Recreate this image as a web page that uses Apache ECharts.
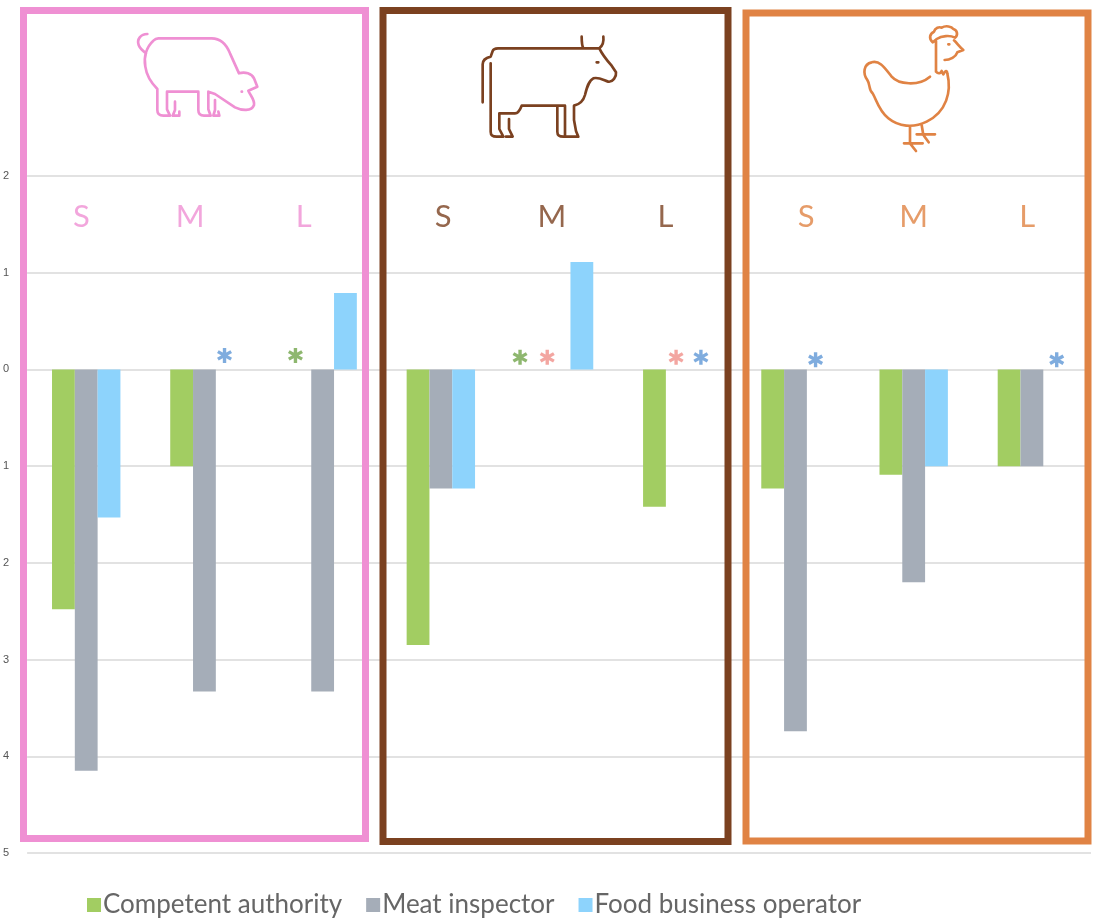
<!DOCTYPE html>
<html><head><meta charset="utf-8">
<style>html,body{margin:0;padding:0;background:#fff}#c{width:1096px;height:919px}</style>
<script src="https://cdn.jsdelivr.net/npm/echarts@6/dist/echarts.min.js"></script>
</head><body><div id="c"></div>
<script>
const categories = ['Pig S','Pig M','Pig L','Cattle S','Cattle M','Cattle L','Poultry S','Poultry M','Poultry L'];
const competentAuthority = [-2.48,-1,null,-2.85,null,-1.42,-1.23,-1.09,-1];
const meatInspector      = [-4.15,-3.33,-3.33,-1.23,null,null,-3.74,-2.2,-1];
const foodBusiness       = [-1.53,null,0.79,-1.23,1.11,null,null,-1,null];
const yTicks = [2,1,0,-1,-2,-3,-4,-5];
const sizeText = ['S','M','L'];
const pigSizes = [[0.46,1.58],[1.38,1.58],[2.34,1.58]];
const cattleSizes = [[3.52,1.58],[4.44,1.58],[5.40,1.58]];
const poultrySizes = [[6.59,1.58],[7.50,1.58],[8.46,1.58]];
const greenStars = [[2.27,0.145],[4.17,0.125]];
const redStars = [[4.40,0.125],[5.49,0.125]];
const blueStars = [[1.67,0.145],[5.70,0.125],[6.67,0.10],[8.71,0.10]];

const GREEN='#a2cd62',GREY='#a5adb8',BLUE='#8dd3fc',PINK='#ef90d3',BROWN='#7b4120',ORANGE='#e08344';

function starPath(){
  let d='';
  [0,60,120].forEach(a=>{
    const r=a*Math.PI/180,c=Math.cos(r),s=Math.sin(r),w=11,h=50;
    const p=[[-w,-h],[w,-h],[w,h],[-w,h]].map(q=>[50+q[0]*c-q[1]*s,50+q[0]*s+q[1]*c]);
    d+='M'+p.map(q=>q[0].toFixed(1)+','+q[1].toFixed(1)).join('L')+'Z';
  });
  return 'path://'+d;
}
const star=starPath();
function starSeries(data,color){return {type:'scatter',xAxisIndex:1,yAxisIndex:0,data,symbol:star,symbolSize:15,itemStyle:{color},silent:true,z:5};}
function sizeSeries(data,color){return {type:'scatter',xAxisIndex:1,yAxisIndex:0,data,symbolSize:0,silent:true,z:5,
  label:{show:true,position:'inside',formatter:p=>sizeText[p.dataIndex],color,fontFamily:'Lato',fontSize:31}};}
function bar(name,data,color){return {name,type:'bar',data,barWidth:22.8,barGap:0,itemStyle:{color},z:3};}
function box(x,y,w,h,color){return {type:'rect',z:100,shape:{x,y,width:w,height:h},style:{fill:'none',stroke:color,lineWidth:7}};}
function icon(name,x,y,pathData,color){
  echarts.graphic.registerShape(name,echarts.graphic.extendPath(pathData,{}));
  return {type:name,z:100,x,y,scaleX:1/3,scaleY:1/3,
    style:{fill:'none',stroke:color,lineWidth:8,lineCap:'round',lineJoin:'round'}};
}

const pigPath='M82,42C62,42 50,58 56,75C60,86 68,92 78,100M100,62C80,80 70,110 76,140C80,170 95,190 112,207L112,270C112,282 118,287 130,287L150,287L141,268L141,215L235,215L235,270C235,282 240,287 252,287L272,287L265,268L265,215L285,222L345,262C365,272 395,275 402,255C405,240 392,228 385,212L412,200L402,175C395,160 375,155 357,160L330,100C320,75 305,55 275,55L115,55C108,55 104,58 100,62ZM165,245L165,270L158,287L178,287L178,275M285,240L285,270L280,287L298,287L295,275M365,215L366,215';
const cowPath='M38,232L38,118C38,105 50,98 62,95L68,78C70,72 76,70 84,70L340,70C335,60 335,45 335,35M400,35C402,50 398,62 388,70L340,70M388,70C395,85 410,105 425,122L438,142C440,155 428,172 415,170C400,165 385,155 370,160C355,168 350,190 345,210C340,228 330,238 312,242L312,285L318,318L325,335L285,335L285,305L285,242L262,242L262,320C262,332 268,335 280,335L290,335M62,115L62,320C62,332 68,335 80,335L100,335L88,312L88,265L135,265C145,265 150,255 155,242L262,242M117,282L117,312L128,335L108,335M380,112L385,112';
const henPath='M248,82C235,70 240,55 252,50C255,38 268,35 275,38C288,30 305,35 310,42C322,45 325,60 315,68C300,60 275,62 260,72C255,76 252,80 248,82ZM258,78L258,170C265,178 272,175 275,168L280,178C285,170 290,162 292,175C305,230 290,290 230,320C190,340 145,335 115,310C85,285 80,255 68,235C55,225 62,210 52,195C38,175 40,148 65,142C90,135 105,160 125,185C145,208 205,215 240,185M312,76C322,85 328,95 340,105L322,112C318,125 300,135 284,135M295,88L298,88M180,335L180,385M215,330L220,360M162,385L218,385M180,385L198,408M200,358L255,358M220,360L236,382';

const option={
  backgroundColor:'#fff',animation:false,
  grid:{left:24,right:5,top:176,height:677,containLabel:false},
  legend:{left:82,top:887,itemWidth:14,itemHeight:14,itemGap:24,icon:'rect',
    data:['Competent authority','Meat inspector','Food business operator'],
    textStyle:{fontFamily:'Lato',fontSize:26,color:'#666',padding:[0,0,0,-3]}},
  xAxis:[
    {type:'category',data:categories,axisLine:{show:false},axisTick:{show:false},axisLabel:{show:false},splitLine:{show:false}},
    {type:'value',min:0,max:9,show:false}
  ],
  yAxis:{type:'value',min:-5,max:2,interval:1,axisLine:{show:false},axisTick:{show:false},
    axisLabel:{margin:18,fontSize:11,color:'#555',fontFamily:'Liberation Sans',formatter:v=>String(Math.abs(v))},
    splitLine:{lineStyle:{color:'#e2e2e2',width:2}}},
  series:[
    bar('Competent authority',competentAuthority,GREEN),
    bar('Meat inspector',meatInspector,GREY),
    bar('Food business operator',foodBusiness,BLUE),
    starSeries(greenStars,'#72a54b'),starSeries(redStars,'#f0908a'),starSeries(blueStars,'#5f97d6'),
    sizeSeries(pigSizes,PINK),sizeSeries(cattleSizes,BROWN),sizeSeries(poultrySizes,ORANGE)
  ],
  graphic:{elements:[
    box(23.5,10.5,342,828,PINK),box(383,10.5,345,831,BROWN),box(746,13,342,828,ORANGE),
    icon('pigIcon',120,20,pigPath,PINK),icon('cowIcon',470,25,cowPath,BROWN),icon('henIcon',850,15,henPath,ORANGE)
  ]}
};
echarts.init(document.getElementById('c')).setOption(option);
</script></body></html>
